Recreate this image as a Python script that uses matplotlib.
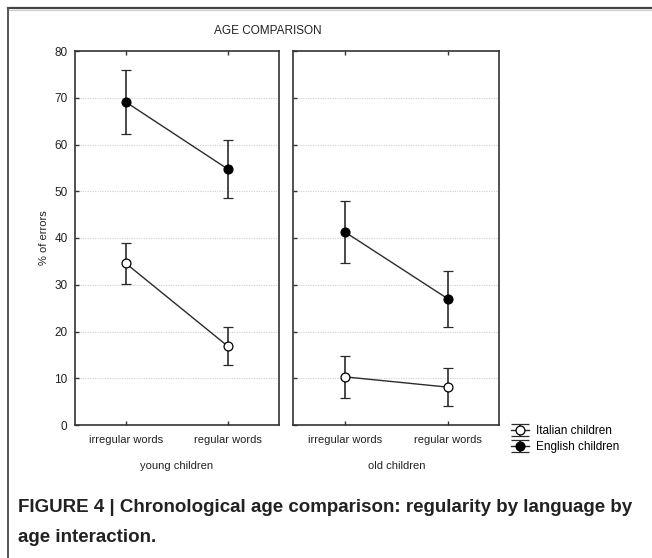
import matplotlib
matplotlib.use("Agg")
import matplotlib.pyplot as plt
from matplotlib.lines import Line2D

# ---- data ----
categories = ["irregular words", "regular words"]
groups = ["young children", "old children"]
series = ["Italian children", "English children"]

young_italian = [34.6, 16.8]
young_italian_lo = [30.2, 12.9]
young_italian_hi = [38.9, 20.9]
young_english = [69.1, 54.7]
young_english_lo = [62.3, 48.5]
young_english_hi = [75.9, 60.9]

old_italian = [10.3, 8.1]
old_italian_lo = [5.7, 4.0]
old_italian_hi = [14.7, 12.2]
old_english = [41.3, 27.0]
old_english_lo = [34.6, 20.9]
old_english_hi = [47.9, 33.0]

yticks = [0, 10, 20, 30, 40, 50, 60, 70, 80]

plt.rcParams['font.family'] = ['Liberation Sans', 'DejaVu Sans']

W, H = 652, 558
fig = plt.figure(figsize=(W / 100, H / 100), dpi=100)

def fx(px):
    return px / W

def fy(py):
    return 1 - py / H

ax_top, ax_bot = 51, 425
axL = fig.add_axes([fx(74.5), fy(ax_bot), fx(279.3 - 74.5), (ax_bot - ax_top) / H])
axR = fig.add_axes([fx(293.3), fy(ax_bot), fx(499.3 - 293.3), (ax_bot - ax_top) / H])

line_c = '#2b2b2b'
panel_data = [
    (axL, [(young_italian, young_italian_lo, young_italian_hi),
           (young_english, young_english_lo, young_english_hi)], groups[0]),
    (axR, [(old_italian, old_italian_lo, old_italian_hi),
           (old_english, old_english_lo, old_english_hi)], groups[1]),
]

faces = ['white', 'black']
for ax, sers, xlabel in panel_data:
    xs = list(range(len(categories)))
    for i, (vals, lo, hi) in enumerate(sers):
        yerr = [[v - l for v, l in zip(vals, lo)], [h - v for v, h in zip(vals, hi)]]
        ax.errorbar(xs, vals, yerr=yerr, color=line_c, lw=1.0,
                    marker='o', markersize=6.4, markerfacecolor=faces[i],
                    markeredgecolor='black', markeredgewidth=0.9,
                    ecolor=line_c, elinewidth=1.2, capsize=3.8, capthick=1.2,
                    zorder=3)
    ax.set_xlim(-0.5, 1.5)
    ax.set_ylim(0, 80)
    ax.set_yticks(yticks)
    ax.set_xticks(xs)
    ax.set_xticklabels(categories, fontsize=8, color='#222222')
    ax.tick_params(axis='x', direction='in', top=True, bottom=True, length=3,
                   width=1, color='#333333', pad=7)
    ax.tick_params(axis='y', direction='in', left=True, right=False, length=3,
                   width=1, color='#333333', labelsize=8.5, labelcolor='#222222', pad=5)
    for t in yticks[1:-1]:
        ax.axhline(t, color='#cfcfcf', lw=0.8, ls=(0, (1, 1.2)), zorder=1)
    for s in ax.spines.values():
        s.set_color('#333333')
        s.set_linewidth(1.2)
    ax.set_xlabel(xlabel, fontsize=8, color='#222222', labelpad=12)

axR.tick_params(axis='y', labelleft=False)
axL.set_ylabel('% of errors', fontsize=8, color='#222222', labelpad=4)

fig.text(fx(268), fy(31), 'AGE COMPARISON', ha='center', va='center',
         fontsize=8.5, color='#222222')

# legend proxies (wider caps like the reference glyph)
proxies = []
for i in range(len(series)):
    c = axL.errorbar([float('nan')], [float('nan')], yerr=[1.0], color=line_c, lw=1.0,
                     marker='o', markersize=6.4, markerfacecolor=faces[i],
                     markeredgecolor='black', markeredgewidth=0.9,
                     ecolor=line_c, elinewidth=1.2, capsize=6.5, capthick=1.2)
    proxies.append(c)

fig.legend(proxies, series, loc='center left',
           bbox_to_anchor=(fx(511), fy(439)), frameon=False, fontsize=8.5,
           handlelength=1.5, handletextpad=0.6, labelspacing=0.35,
           borderpad=0, borderaxespad=0)

# frame lines
fig.add_artist(Line2D([fx(8), 1], [fy(8.3), fy(8.3)], color='#444444', lw=1.6))
fig.add_artist(Line2D([fx(8), 1], [fy(10), fy(10)], color='#cccccc', lw=0.8))
fig.add_artist(Line2D([fx(8), fx(8)], [fy(8.3), 0], color='#555555', lw=1.4))

cap_font = ['Liberation Sans', 'DejaVu Sans']
fig.text(fx(18), fy(508), 'FIGURE 4 | Chronological age comparison: regularity by language by',
         ha='left', va='center', fontsize=13.5, fontweight='bold', color='#222222',
         family=cap_font)
fig.text(fx(18), fy(537), 'age interaction.',
         ha='left', va='center', fontsize=13.5, fontweight='bold', color='#222222',
         family=cap_font)

fig.savefig('out.png', dpi=100)
